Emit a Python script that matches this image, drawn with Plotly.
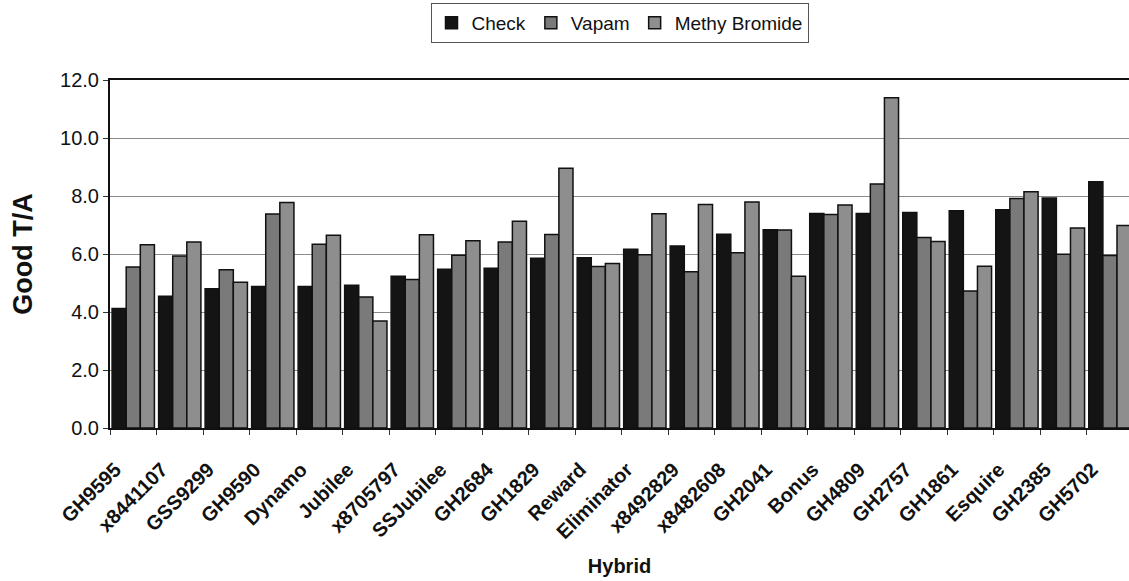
import plotly.graph_objects as go

hybrids = ["GH9595", "x8441107", "GSS9299", "GH9590", "Dynamo", "Jubilee", "x8705797",
           "SSJubilee", "GH2684", "GH1829", "Reward", "Eliminator", "x8492829", "x8482608",
           "GH2041", "Bonus", "GH4809", "GH2757", "GH1861", "Esquire", "GH2385", "GH5702"]
check = [4.12, 4.54, 4.80, 4.88, 4.88, 4.92, 5.23, 5.47, 5.51, 5.85, 5.87, 6.16, 6.28, 6.68,
         6.84, 7.40, 7.40, 7.43, 7.49, 7.53, 7.93, 8.49]
vapam = [5.55, 5.93, 5.46, 7.38, 6.34, 4.52, 5.12, 5.96, 6.41, 6.67, 5.57, 5.97, 5.39, 6.04,
         6.83, 7.36, 8.41, 6.57, 4.72, 7.91, 5.99, 5.95]
methyl = [6.32, 6.41, 5.03, 7.78, 6.65, 3.69, 6.66, 6.46, 7.13, 8.96, 5.67, 7.39, 7.71, 7.79,
          5.23, 7.69, 11.39, 6.43, 5.58, 8.15, 6.90, 6.98]

FONT = "Liberation Sans, Arial, sans-serif"

fig = go.Figure()
for name, vals, col in [("Check", check, "#141414"),
                        ("Vapam", vapam, "#7a7a7a"),
                        ("Methy Bromide", methyl, "#8e8e8e")]:
    fig.add_trace(go.Bar(x=hybrids, y=vals, name=name,
                         marker=dict(color=col, line=dict(color="#111111", width=1.5))))

fig.update_layout(
    width=1129, height=581,
    margin=dict(l=110, r=0, t=80, b=153),
    paper_bgcolor="white", plot_bgcolor="white",
    barmode="group", bargap=0.09, bargroupgap=0,
    font=dict(family=FONT, color="#111111"),
    legend=dict(orientation="h", x=0.5, xanchor="center", xref="paper",
                y=0.995, yref="container", yanchor="top",
                bordercolor="#555555", borderwidth=1, font=dict(size=19, family=FONT),
                itemwidth=30, tracegroupgap=0),
    xaxis=dict(range=[-0.5, 21.41], tickson="boundaries", ticks="outside", ticklen=5,
               tickcolor="#333333", tickangle=-45, showline=True, linecolor="#111111",
               linewidth=2, mirror=True, showgrid=False,
               ticklabelstandoff=20, ticklabelshift=-18,
               tickfont=dict(size=20, family=FONT, weight="bold"),
               title=dict(text="<b>Hybrid</b>", font=dict(size=20, family=FONT), standoff=17)),
    yaxis=dict(range=[0, 12], dtick=2, tickformat=".1f", ticks="outside", ticklen=5,
               tickcolor="#333333", showline=True, linecolor="#111111", linewidth=2,
               showgrid=True, gridcolor="#8a8a8a", gridwidth=1, zeroline=False,
               tickfont=dict(size=20, family=FONT),
               title=dict(text="<b>Good T/A</b>", font=dict(size=27, family=FONT), standoff=20)),
)

fig.write_html("out.html")
